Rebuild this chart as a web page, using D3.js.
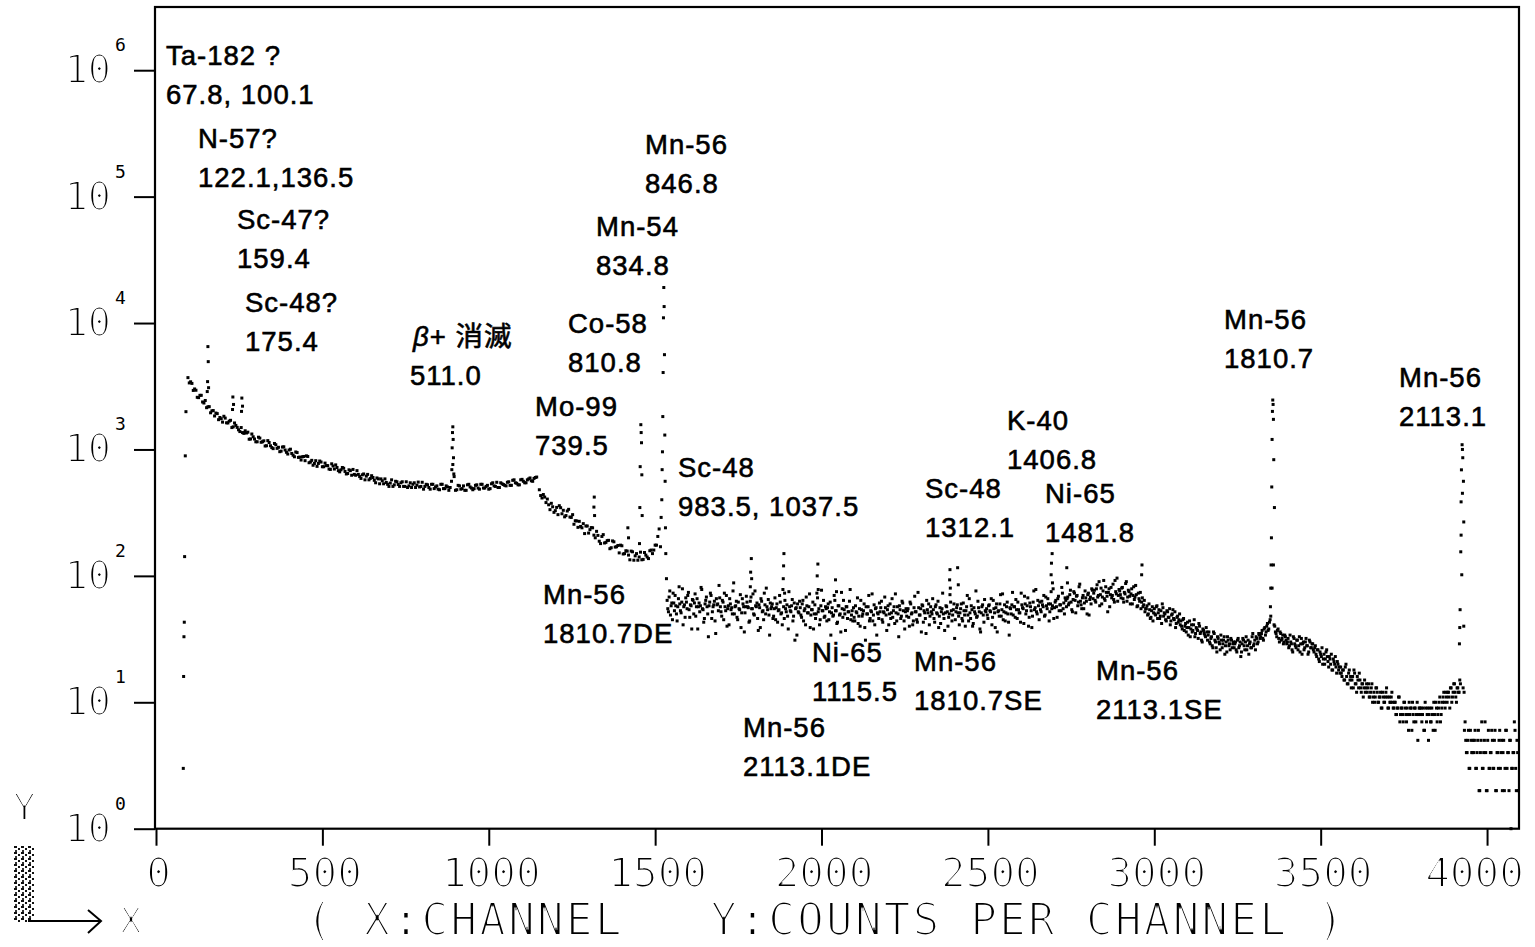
<!DOCTYPE html>
<html>
<head>
<meta charset="utf-8">
<script src="https://cdn.jsdelivr.net/npm/d3@7"></script>
<style>
  html, body { margin: 0; padding: 0; background: #fff; }
  svg { display: block; }
</style>
</head>
<body>
<svg id="chart" width="1535" height="947"></svg>
<script>
// ---------------- spectrum data (counts per channel) ----------------
// low-energy continuum: every 8th channel from 96, and the channels 4 further on
const lowStart = 96, lowStep = 8;
const lowCounts = [
  3700, 3430, 2930, 2940, 2570, 2680, 2330, 2140, 2180, 2020,
  1840, 1920, 1790, 1645, 1770, 1620, 1700, 1510, 1550, 1430,
  1490, 1340, 1350, 1205, 1325, 1210, 1150, 1230, 1150, 1065,
  1175, 1070, 1015, 1090, 1040, 970, 1050, 950, 990, 930,
  875, 945, 870, 875, 815, 880, 795, 750, 815, 775,
  795, 730, 745, 700, 770, 700, 720, 665, 720, 670,
  645, 680, 695, 625, 635, 590, 640, 615, 575, 620,
  570, 595, 535, 565, 585, 530, 542, 510, 560, 528,
  545, 510, 555, 515, 500, 545, 522, 505, 550, 510,
  525, 485, 530, 505, 485, 530, 490, 515, 475, 560,
  610, 480, 515, 490, 475, 525, 505, 480, 520, 495,
  530, 495, 510, 485, 535, 515, 550, 500, 535, 520,
  550, 520, 570, 545, 525, 575, 560, 545, 585, 565,
  590, 605
];
const lowStartB = 100;
const lowCountsB = [
  3360, 3330, 3010, 2585, 2680, 2375, 2440, 2175, 1950, 2030,
  1940, 1720, 1750, 1830, 1625, 1675, 1490, 1620, 1495, 1385,
  1360, 1405, 1370, 1210, 1260, 1150, 1250, 1140, 1170, 1070,
  1135, 1035, 1115, 1020, 960, 1045, 990, 920, 1005, 900,
  955, 865, 825, 880, 890, 785, 820, 775, 735, 810,
  730, 780, 745, 695, 740, 755, 680, 690, 710, 640,
  690, 625, 635, 680, 610, 630, 575, 635, 590, 600,
  545, 585, 585, 535, 548, 510, 575, 525, 555, 510,
  555, 510, 500, 545, 530, 500, 552, 510, 485, 530,
  500, 530, 490, 515, 480, 530, 490, 505, 500, 760,
  475, 520, 485, 515, 475, 530, 495, 490, 525, 485,
  530, 495, 520, 490, 545, 510, 500, 545, 528, 515,
  555, 520, 575, 540, 525, 580, 545, 575, 595, 560,
  600
];
// Compton edge region: every 8th channel from 1152, and from 1156
const comptonStart = 1152, comptonStep = 8;
const comptonCounts = [
  480, 413, 420, 405, 334, 352, 328, 305, 346, 330,
  300, 336, 290, 256, 272, 270, 240, 216, 248, 232,
  240, 200, 209, 180, 212, 184, 191, 167, 186, 170,
  152, 173, 150, 157, 134, 155, 144, 133, 154, 135,
  146, 137, 160, 160, 175, 235
];
const comptonStartB = 1156;
const comptonCountsB = [
  432, 440, 380, 365, 375, 318, 348, 359, 310, 293,
  326, 292, 305, 273, 242, 246, 259, 248, 218, 241,
  210, 225, 188, 205, 182, 190, 164, 189, 169, 174,
  175, 149, 158, 146, 157, 133, 150, 141, 134, 153,
  141, 158, 150, 175, 205
];
// flat middle region: every 4th channel from 1536, and from 1538
const midStart = 1536, midStep = 4;
const midCounts = [
  64, 52, 76, 58, 45, 61, 70, 50, 57, 82, 53, 62, 41, 59, 67, 55, 74, 47, 58, 65,
  50, 72, 57, 38, 61, 58, 78, 54, 46, 64, 57, 33, 62, 70, 52, 59, 44, 66, 60, 84,
  57, 48, 62, 73, 53, 40, 58, 66, 54, 50, 88, 57, 63, 45, 55, 71, 51, 60, 36, 57,
  62, 56, 44, 68, 55, 50, 76, 57, 46, 59, 39, 63, 53, 73, 50, 57, 65, 34, 55, 60,
  48, 67, 56, 43, 54, 62, 51, 78, 46, 55, 59, 38, 57, 52, 65, 48, 31, 56, 60, 51,
  56, 47, 64, 53, 41, 58, 51, 72, 49, 54, 38, 59, 50, 67, 55, 45, 77, 53, 47, 57,
  44, 60, 52, 34, 56, 49, 64, 53, 43, 58, 50, 74, 47, 54, 37, 57, 52, 63, 45, 53,
  56, 44, 52, 67, 48, 40, 54, 50, 60, 31, 50, 57, 44, 53, 72, 49, 41, 56, 51, 46,
  52, 63, 43, 51, 56, 37, 58, 50, 46, 66, 53, 42, 51, 57, 33, 54, 48, 61, 44, 52,
  48, 55, 40, 60, 51, 44, 69, 52, 43, 56, 49, 36, 58, 53, 46, 64, 51, 41, 57, 50,
  54, 43, 59, 50, 39, 56, 52, 73, 46, 51, 57, 40, 50, 62, 44, 54, 32, 52, 59, 48,
  51, 60, 44, 53, 40, 57, 49, 66, 46, 54, 42, 52, 76, 48, 56, 38, 51, 59, 43, 53,
  55, 46, 59, 52, 41, 64, 51, 56, 36, 53, 60, 48, 72, 52, 44, 57, 50, 34, 55, 59,
  49, 57, 65, 46, 54, 51, 73, 56, 42, 60, 53, 67, 47, 57, 39, 62, 54, 78, 50, 58,
  62, 52, 59, 70, 49, 58, 66, 44, 60, 55, 79, 56, 64, 47, 69, 59, 53, 73, 61, 67,
  57, 68, 61, 77, 54, 65, 73, 51, 70, 62, 86, 59, 67, 55, 76, 63, 71, 49, 68, 79,
  66, 77, 62, 85, 70, 58, 80, 68, 92, 64, 74, 52, 79, 71, 67, 86, 62, 75, 96, 70,
  76, 67, 81, 62, 72, 90, 68, 75, 60, 79, 70, 65, 84, 57, 73, 63, 55, 67, 59, 52,
  55, 49, 60, 46, 53, 44
];
const midStartB = 1538;
const midCountsB = [
  55, 68, 49, 61, 73, 53, 58, 44, 66, 60, 51, 79, 57, 47, 62, 70, 54, 59, 38, 64,
  61, 48, 66, 57, 52, 81, 55, 43, 60, 68, 50, 58, 73, 46, 57, 63, 35, 59, 53, 67,
  52, 64, 45, 57, 70, 55, 41, 60, 56, 76, 50, 58, 47, 62, 54, 39, 66, 57, 51, 69,
  57, 43, 63, 55, 72, 49, 58, 61, 37, 56, 66, 52, 45, 59, 80, 54, 49, 61, 57, 46,
  55, 45, 60, 53, 70, 50, 41, 57, 64, 52, 48, 75, 53, 58, 44, 61, 55, 34, 52, 63,
  49, 60, 44, 55, 68, 51, 57, 39, 54, 62, 50, 46, 73, 52, 41, 58, 53, 64, 48, 55,
  56, 45, 62, 51, 48, 70, 53, 42, 58, 49, 36, 55, 64, 50, 57, 46, 52, 78, 49, 44,
  47, 58, 51, 42, 55, 64, 48, 53, 39, 57, 50, 70, 46, 52, 44, 59, 55, 34, 50, 61,
  56, 45, 52, 68, 49, 54, 41, 60, 51, 47, 57, 72, 44, 50, 58, 46, 63, 53, 38, 55,
  53, 47, 62, 50, 41, 56, 52, 45, 74, 49, 55, 59, 43, 51, 35, 54, 60, 48, 52, 66,
  46, 57, 51, 63, 48, 42, 55, 50, 37, 58, 52, 47, 71, 53, 49, 60, 45, 56, 51, 41,
  55, 46, 61, 49, 53, 70, 44, 51, 58, 40, 56, 50, 47, 63, 52, 36, 57, 49, 65, 52,
  49, 58, 53, 66, 47, 55, 39, 60, 52, 48, 71, 54, 45, 59, 51, 62, 43, 56, 50, 74,
  57, 47, 54, 62, 51, 43, 59, 55, 69, 50, 58, 40, 61, 53, 48, 76, 56, 52, 64, 45,
  54, 63, 57, 48, 68, 55, 60, 52, 75, 58, 46, 62, 57, 66, 53, 59, 81, 55, 50, 64,
  66, 59, 71, 62, 52, 75, 64, 69, 58, 82, 63, 55, 70, 61, 67, 50, 73, 65, 60, 77,
  73, 64, 79, 68, 90, 71, 60, 76, 66, 82, 69, 74, 57, 81, 70, 65, 92, 72, 63, 78,
  71, 80, 66, 74, 87, 63, 77, 69, 72, 60, 82, 68, 71, 58, 66, 74, 62, 57, 64, 55,
  58, 50, 54, 47, 57, 51
];
// high-energy tail: every 4th channel from 3000, and from 3002
const highStart = 3000, highStep = 4;
const highCounts = [
  55, 49, 58, 51, 46, 53, 60, 48, 50, 44, 52, 47, 41, 49, 54, 45, 39, 47, 43, 50,
  44, 38, 46, 40, 36, 43, 39, 33, 41, 37, 45, 35, 38, 32, 40, 36, 30, 37, 34, 39,
  31, 36, 29, 33, 27, 35, 30, 25, 32, 29, 34, 27, 31, 24, 30, 33, 28, 26, 31, 29,
  27, 30, 25, 32, 28, 23, 29, 31, 26, 33, 28, 24, 30, 27, 35, 29, 26, 32, 30, 34,
  33, 37, 31, 39, 36, 42, 38, 45, 200, 2460, 41, 36, 33, 38, 30, 35, 32, 29, 34, 31,
  30, 27, 34, 29, 25, 32, 28, 31, 26, 33, 29, 24, 30, 27, 32, 28, 25, 30, 27, 29,
  25, 28, 23, 26, 21, 24, 27, 22, 20, 25, 23, 19, 22, 24, 18, 21, 23, 17, 20, 19,
  19, 16, 18, 15, 20, 14, 17, 15, 13, 16, 18, 14, 12, 15, 17, 13, 14, 11, 15, 13,
  12, 14, 11, 13, 10, 12, 11, 13, 10, 11, 12, 9, 11, 10, 12, 11, 9, 10, 11, 10,
  9, 10, 8, 9, 11, 8, 9, 7, 10, 8, 9, 6, 8, 9, 10, 7, 9, 8, 5, 9,
  8, 7, 9, 6, 9, 8, 5, 9, 7, 8, 10, 6, 9, 8, 10, 7, 9, 11, 10, 12,
  10, 12, 9, 13, 11, 14, 12, 10, 13, 12, 14, 102, 13, 6, 5, 4, 6, 3, 5, 4,
  4, 6, 3, 5, 2, 4, 7, 3, 5, 4, 2, 6, 3, 4, 5, 3, 6, 2, 4, 5,
  3, 5, 4, 2, 6, 3, 4, 5, 1, 3, 4, 6, 2, 4
];
const highStartB = 3002;
const highCountsB = [
  50, 57, 46, 54, 48, 42, 56, 51, 45, 53, 47, 55, 44, 50, 46, 52, 42, 48, 45, 41,
  40, 45, 37, 42, 39, 34, 44, 38, 36, 41, 33, 39, 37, 42, 35, 31, 38, 35, 33, 36,
  34, 30, 32, 28, 36, 31, 27, 33, 30, 26, 31, 29, 33, 28, 25, 31, 29, 32, 27, 30,
  29, 26, 31, 27, 30, 25, 32, 28, 30, 26, 31, 29, 27, 33, 28, 31, 33, 29, 35, 32,
  35, 32, 38, 34, 40, 37, 43, 48, 80, 122, 40, 35, 37, 32, 36, 31, 34, 30, 33, 29,
  32, 28, 30, 26, 33, 29, 27, 31, 28, 25, 32, 29, 26, 30, 28, 24, 31, 27, 29, 26,
  27, 24, 26, 22, 25, 23, 20, 24, 22, 26, 21, 23, 20, 18, 22, 20, 19, 21, 18, 17,
  17, 18, 15, 19, 16, 14, 18, 16, 15, 13, 17, 14, 16, 13, 15, 12, 14, 13, 12, 14,
  13, 11, 12, 14, 11, 10, 13, 12, 10, 11, 9, 12, 10, 11, 13, 9, 11, 10, 12, 9,
  10, 8, 9, 11, 7, 9, 8, 10, 9, 7, 8, 10, 9, 6, 8, 9, 7, 10, 8, 9,
  9, 8, 6, 10, 7, 9, 8, 7, 9, 6, 8, 10, 7, 9, 11, 8, 10, 12, 9, 11,
  12, 11, 13, 10, 12, 14, 11, 13, 12, 15, 210, 450, 40, 7, 4, 5, 3, 6, 4, 5,
  5, 3, 4, 6, 2, 5, 3, 4, 7, 2, 5, 3, 4, 6, 3, 5, 2, 4, 3, 6,
  4, 2, 5, 3, 6, 4, 2, 5, 3, 4, 7, 3, 5, 2
];
// channels inside the sharp photopeaks (and the threshold edge)
const peakChannels = [
  82, 83, 84, 85, 86, 88, 90,
  154, 155, 156, 157, 158,
  230, 231, 233, 257, 258, 260,
  889, 890, 891, 892, 893, 894, 895,
  1316, 1317, 1318, 1418, 1420,
  1453, 1454, 1455, 1457, 1458, 1459, 1460, 1461,
  1516, 1518, 1520, 1521, 1522, 1523, 1524, 1525, 1526, 1527, 1528, 1529, 1530, 1531, 1532, 1534,
  1786, 1787, 1789, 1790, 1885, 1886, 1887, 1889, 1987, 1989, 1990, 2042, 2045,
  2385, 2386, 2387, 2409, 2411, 2690, 2691, 2693, 2694, 2737, 2739, 2962, 2963,
  3349, 3350, 3351, 3353, 3354, 3355, 3357, 3358, 3359, 3361,
  3917, 3918, 3919, 3921, 3922, 3923, 3925, 3926, 3927, 3929, 3930, 3931
];
const peakCounts = [
  3, 16, 33, 43, 142, 890, 1990,
  2870, 3440, 6510, 4950, 3080,
  2070, 2600, 2270, 2000, 2550, 2200,
  692, 1030, 1360, 1510, 1200, 860, 640,
  350, 420, 300, 240, 200,
  180, 347, 731, 1570, 1360, 1130, 630, 300,
  170, 290, 400, 692, 958, 1820, 4060, 11000, 19100, 13500, 5620, 1300, 560, 240, 150, 95,
  82, 107, 137, 95, 95, 120, 150, 73, 100, 124, 78, 93, 75,
  93, 112, 80, 116, 85, 102, 126, 150, 88, 116, 88, 102, 122,
  57, 80, 122, 505, 1200, 2000, 2270, 1730, 830, 347,
  29, 39, 54, 155, 385, 690, 1090, 1000, 860, 560, 267, 12
];

// ---------------- axes and labels ----------------
const xTickValues = [0, 500, 1000, 1500, 2000, 2500, 3000, 3500, 4000];
const yTickExponents = [0, 1, 2, 3, 4, 5, 6];
const xAxisTitle = "( X:CHANNEL   Y:COUNTS PER CHANNEL )";

// nuclide identification and gamma energy (keV)
const noteNames = [
  "Ta-182 ?", "N-57?", "Sc-47?", "Sc-48?", "β+ 消滅", "Co-58", "Mo-99", "Mn-54", "Mn-56", "Sc-48",
  "Mn-56", "Ni-65", "Mn-56", "Mn-56", "Sc-48", "K-40", "Ni-65", "Mn-56", "Mn-56", "Mn-56"
];
const noteEnergies = [
  "67.8, 100.1", "122.1,136.5", "159.4", "175.4", "511.0", "810.8", "739.5", "834.8", "846.8", "983.5, 1037.5",
  "1810.7DE", "1115.5", "2113.1DE", "1810.7SE", "1312.1", "1406.8", "1481.8", "2113.1SE", "1810.7", "2113.1"
];

// ---------------- drawing ----------------
const svg = d3.select("#chart");

const defs = svg.append("defs");
// thins the plotter-style axis lettering
const thin = defs.append("filter").attr("id", "thin")
  .attr("x", "-5%").attr("y", "-5%").attr("width", "110%").attr("height", "110%");
thin.append("feMorphology").attr("operator", "erode").attr("radius", 0.75);
// dithered block in the corner legend
const dither = defs.append("pattern").attr("id", "dither")
  .attr("width", 7).attr("height", 6).attr("patternUnits", "userSpaceOnUse");
dither.append("rect").attr("x", 0).attr("y", 0).attr("width", 3).attr("height", 2).attr("fill", "#111");
dither.append("rect").attr("x", 4).attr("y", 2).attr("width", 2).attr("height", 2).attr("fill", "#111");
dither.append("rect").attr("x", 1).attr("y", 4).attr("width", 2).attr("height", 2).attr("fill", "#333");

const x = d3.scaleLinear().domain([0, 4096]).range([156, 1519]);
const y = d3.scaleLog().domain([1, Math.pow(10, 6.5)]).range([828.7, 7]);

function segment(start, step, counts) {
  return counts.map((c, i) => ({ ch: start + i * step, c }));
}
const points = [].concat(
  segment(lowStart, lowStep, lowCounts),
  segment(lowStartB, lowStep, lowCountsB),
  segment(comptonStart, comptonStep, comptonCounts),
  segment(comptonStartB, comptonStep, comptonCountsB),
  segment(midStart, midStep, midCounts),
  segment(midStartB, midStep, midCountsB),
  segment(highStart, highStep, highCounts),
  segment(highStartB, highStep, highCountsB),
  peakChannels.map((ch, i) => ({ ch, c: peakCounts[i] }))
).filter(d => d.c >= 1);

// spectrum dots
svg.append("g").attr("class", "spectrum")
  .selectAll("rect").data(points).join("rect")
  .attr("x", d => x(d.ch) - 1.5)
  .attr("y", d => y(d.c) - 1.5)
  .attr("width", 3)
  .attr("height", 3)
  .attr("fill", "#000");

// plot frame
const [x0, x1] = x.range();
const [yb, yt] = y.range();
svg.append("rect")
  .attr("x", x0 - 1).attr("y", yt).attr("width", x1 - x0 + 1).attr("height", yb - yt)
  .attr("fill", "none").attr("stroke", "#000").attr("stroke-width", 2.2);

const axisFont = "'DejaVu Sans Mono', 'Liberation Mono', monospace";

// x axis: ticks hang below the frame
const xAxisG = svg.append("g")
  .attr("transform", `translate(0,${yb})`)
  .call(d3.axisBottom(x).tickValues(xTickValues).tickSize(17).tickSizeOuter(0).tickFormat(d3.format("d")));
xAxisG.select(".domain").remove();
xAxisG.selectAll(".tick line").attr("stroke", "#000").attr("stroke-width", 2);
xAxisG.selectAll(".tick text")
  .attr("y", 58).attr("dy", null)
  .attr("dx", d => (d === 4000 ? -13 : 2))
  .attr("font-family", axisFont).attr("font-size", 41).attr("fill", "#000")
  .attr("filter", "url(#thin)");

// y axis: decade ticks with 10^n labels
const yTicks = yTickExponents.map(e => Math.pow(10, e));
const yAxisG = svg.append("g")
  .attr("transform", `translate(${x0 - 1},0)`)
  .call(d3.axisLeft(y).tickValues(yTicks).tickSize(21).tickSizeOuter(0).tickFormat(""));
yAxisG.select(".domain").remove();
yAxisG.selectAll(".tick line").attr("stroke", "#000").attr("stroke-width", 2);

const yLab = svg.append("g").attr("class", "ylabels");
yTickExponents.forEach(e => {
  const ty = y(Math.pow(10, e));
  yLab.append("text")
    .attr("x", 111).attr("y", ty + 13)
    .attr("text-anchor", "end")
    .attr("font-family", axisFont).attr("font-size", 38.5).attr("fill", "#000")
    .attr("filter", "url(#thin)")
    .text("10");
  yLab.append("text")
    .attr("x", 115).attr("y", ty - 19)
    .attr("font-family", axisFont).attr("font-size", 18).attr("fill", "#000")
    .text(String(e));
});

// corner legend and axis title
const legend = svg.append("g").attr("filter", "url(#thin)");
legend.append("text").attr("x", 13).attr("y", 820)
  .attr("font-family", axisFont).attr("font-size", 38).attr("fill", "#000").text("Y");
legend.append("text").attr("x", 120).attr("y", 933)
  .attr("font-family", axisFont).attr("font-size", 36).attr("fill", "#000").text("X");
legend.append("text").attr("x", 306).attr("y", 935)
  .attr("font-family", axisFont).attr("font-size", 44).attr("letter-spacing", 2.4).attr("fill", "#000")
  .style("white-space", "pre")
  .text(xAxisTitle);
svg.append("rect").attr("x", 13).attr("y", 846).attr("width", 21).attr("height", 76)
  .attr("fill", "url(#dither)");
svg.append("path")
  .attr("d", "M28,921 H101 M88,910 L101,921 L88,933")
  .attr("fill", "none").attr("stroke", "#000").attr("stroke-width", 2);

// nuclide annotations (left x, first baseline)
const noteAnchors = [
  [166, 65], [198, 148], [237, 229], [245, 312], [413, 346], [568, 333], [535, 416], [596, 236], [645, 154], [678, 477],
  [543, 604], [812, 662], [743, 737], [914, 671], [925, 498], [1007, 430], [1045, 503], [1096, 680], [1224, 329], [1399, 387]
];
const noteFont = "'Liberation Sans', Arial, 'Noto Sans CJK JP', sans-serif";
const notes = svg.append("g").attr("class", "notes")
  .attr("font-family", noteFont).attr("font-size", 27.5).attr("letter-spacing", 1)
  .attr("fill", "#000").attr("stroke", "#000").attr("stroke-width", 0.6);
noteNames.forEach((name, i) => {
  const [nx, ny] = noteAnchors[i];
  const t1 = notes.append("text").attr("x", nx).attr("y", ny);
  if (name.startsWith("β")) {
    t1.append("tspan").attr("font-style", "italic").text("β");
    t1.append("tspan").text(name.slice(1));
  } else {
    t1.text(name);
  }
  notes.append("text").attr("x", nx - (name.startsWith("β") ? 3 : 0)).attr("y", ny + 39)
    .text(noteEnergies[i]);
});
</script>
</body>
</html>
